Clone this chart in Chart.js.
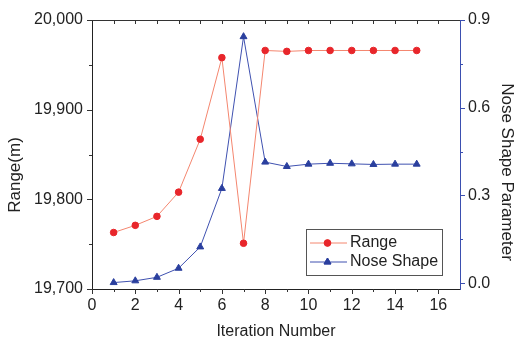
<!DOCTYPE html>
<html>
<head>
<meta charset="utf-8">
<script src="https://cdn.jsdelivr.net/npm/chart.js@4.4.1/dist/chart.umd.min.js"></script>
<style>
  html, body { margin: 0; padding: 0; background: #fff; }
  #wrap { width: 514px; height: 341px; }
</style>
</head>
<body>
<div id="wrap"><canvas id="chart" width="514" height="341"></canvas></div>
<script>
// Iteration history: range and nose shape parameter
const iterations = [1, 2, 3, 4, 5, 6, 7, 8, 9, 10, 11, 12, 13, 14, 15];
const rangeValues = [19763, 19771, 19781, 19808, 19867, 19958, 19751, 19966, 19965, 19966, 19966, 19966, 19966, 19966, 19966];
const noseValues = [0.002, 0.008, 0.020, 0.051, 0.124, 0.324, 0.843, 0.414, 0.399, 0.407, 0.410, 0.408, 0.406, 0.407, 0.407];

const xTicks = [0, 2, 4, 6, 8, 10, 12, 14, 16];
const rangeTicks = [19700, 19800, 19900, 20000];
const noseTicks = [0.0, 0.3, 0.6, 0.9];

const FONT = 'Arial, "Liberation Sans", sans-serif';
const BLUE_AXIS = '#3b4fb0';

// minor/major tick marks, top frame line, axis titles, boxed legend
const decorations = {
    id: 'decorations',
    afterDraw(chart) {
        const ctx = chart.ctx;
        const area = chart.chartArea;
        const x = chart.scales.x;
        const yL = chart.scales.y;
        const yR = chart.scales.y1;

        ctx.save();
        ctx.lineWidth = 1;

        // top frame line with inward ticks
        ctx.strokeStyle = '#333';
        ctx.beginPath();
        ctx.moveTo(area.left, area.top + 0.5);
        ctx.lineTo(area.right, area.top + 0.5);
        for (let v = 1; v <= 16; v++) {
            const px = Math.round(x.getPixelForValue(v)) + 0.5;
            ctx.moveTo(px, area.top);
            ctx.lineTo(px, area.top + 4);
        }
        ctx.stroke();

        // bottom ticks
        ctx.beginPath();
        for (let v = 0; v <= 16; v++) {
            const px = Math.round(x.getPixelForValue(v)) + 0.5;
            ctx.moveTo(px, area.bottom);
            ctx.lineTo(px, area.bottom + (v % 2 === 0 ? 5 : 3));
        }
        // left ticks
        for (let v = 19700; v <= 20000; v += 50) {
            const py = Math.round(yL.getPixelForValue(v)) + 0.5;
            ctx.moveTo(area.left, py);
            ctx.lineTo(area.left - (v % 100 === 0 ? 5 : 3), py);
        }
        ctx.stroke();

        // right ticks
        ctx.strokeStyle = BLUE_AXIS;
        ctx.beginPath();
        for (let i = 0; i <= 6; i++) {
            const py = Math.round(yR.getPixelForValue(i * 0.15)) + 0.5;
            ctx.moveTo(area.right, py);
            ctx.lineTo(area.right + (i % 2 === 0 ? 5 : 3), py);
        }
        ctx.stroke();

        // axis titles
        ctx.fillStyle = '#222';
        ctx.font = '16px ' + FONT;
        ctx.textAlign = 'center';
        ctx.textBaseline = 'middle';
        ctx.fillText('Iteration Number', (area.left + area.right) / 2, 332);

        ctx.font = '17px ' + FONT;
        ctx.save();
        ctx.translate(15, 175);
        ctx.rotate(-Math.PI / 2);
        ctx.fillText('Range(m)', 0, 0);
        ctx.restore();

        ctx.save();
        ctx.translate(507, 172);
        ctx.rotate(Math.PI / 2);
        ctx.fillText('Nose Shape Parameter', 0, 0);
        ctx.restore();

        // legend box
        ctx.font = '16px ' + FONT;
        const bx = 306, by = 229.5, bw = 136, bh = 46;
        ctx.fillStyle = '#fff';
        ctx.fillRect(bx, by, bw, bh);
        ctx.strokeStyle = '#555';
        ctx.strokeRect(bx + 0.5, by, bw, bh);

        chart.data.datasets.forEach((ds, i) => {
            const rowY = 243 + i * 19;
            ctx.strokeStyle = ds.borderColor;
            ctx.lineWidth = 1;
            ctx.beginPath();
            ctx.moveTo(310, rowY);
            ctx.lineTo(347, rowY);
            ctx.stroke();
            Chart.helpers.drawPoint(ctx, {
                pointStyle: ds.pointStyle,
                radius: ds.pointRadius,
                borderWidth: 1
            }, 327.5, rowY);
            ctx.fillStyle = ds.pointBackgroundColor;
            ctx.strokeStyle = ds.pointBorderColor;
            ctx.fill();
            ctx.stroke();
            ctx.fillStyle = '#222';
            ctx.textAlign = 'left';
            ctx.fillText(ds.label, 350, rowY);
        });

        ctx.restore();
    }
};

const setTicks = values => scale => {
    scale.ticks = values.map(v => ({ value: v }));
};

new Chart(document.getElementById('chart'), {
    type: 'line',
    data: {
        datasets: [
            {
                label: 'Range',
                data: iterations.map((it, i) => ({ x: it, y: rangeValues[i] })),
                yAxisID: 'y',
                borderColor: '#f4866f',
                borderWidth: 1,
                pointStyle: 'circle',
                pointRadius: 3.3,
                pointBackgroundColor: '#e8262b',
                pointBorderColor: '#e8262b',
                pointBorderWidth: 1,
                tension: 0
            },
            {
                label: 'Nose Shape',
                data: iterations.map((it, i) => ({ x: it, y: noseValues[i] })),
                yAxisID: 'y1',
                borderColor: '#3f51b0',
                borderWidth: 1,
                pointStyle: 'triangle',
                pointRadius: 4,
                pointBackgroundColor: '#2a3f9e',
                pointBorderColor: '#2a3f9e',
                pointBorderWidth: 1,
                tension: 0
            }
        ]
    },
    options: {
        responsive: false,
        animation: false,
        layout: { padding: { top: 20 } },
        plugins: {
            legend: { display: false },
            tooltip: { enabled: false }
        },
        scales: {
            x: {
                type: 'linear',
                min: 0,
                max: 17,
                afterBuildTicks: setTicks(xTicks),
                afterFit: s => { s.height = 52; },
                grid: { display: false, drawTicks: false },
                border: { display: true, color: '#222', width: 1 },
                ticks: {
                    padding: 7,
                    color: '#222',
                    font: { family: FONT, size: 16 }
                }
            },
            y: {
                position: 'left',
                min: 19700,
                max: 20000,
                afterBuildTicks: setTicks(rangeTicks),
                afterFit: s => { s.width = 92; },
                grid: { display: false, drawTicks: false },
                border: { display: true, color: '#222', width: 1 },
                ticks: {
                    padding: 9,
                    color: '#222',
                    font: { family: FONT, size: 16 },
                    callback: v => v.toLocaleString('en-US')
                }
            },
            y1: {
                position: 'right',
                min: -0.02,
                max: 0.9,
                afterBuildTicks: setTicks(noseTicks),
                afterFit: s => { s.width = 54; },
                grid: { display: false, drawTicks: false },
                border: { display: true, color: BLUE_AXIS, width: 1 },
                ticks: {
                    padding: 8,
                    color: '#222',
                    font: { family: FONT, size: 16 },
                    callback: v => v.toFixed(1)
                }
            }
        }
    },
    plugins: [decorations]
});
</script>
</body>
</html>
